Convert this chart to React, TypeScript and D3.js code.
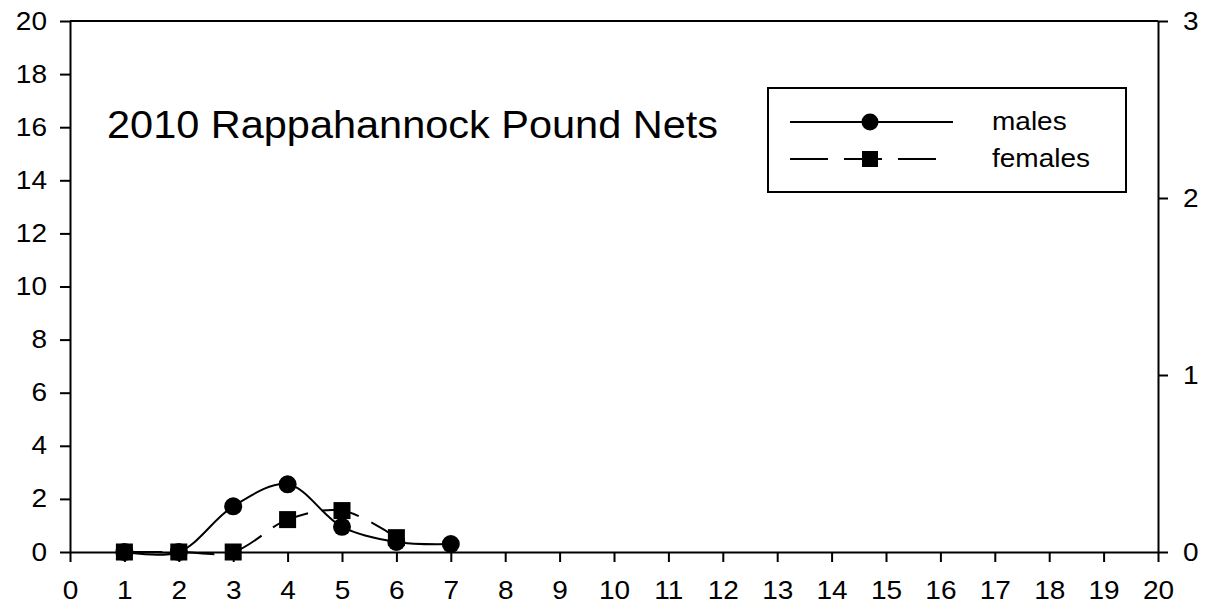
import React, { useEffect, useRef } from "react";
import * as d3 from "d3";

const maleAges = [1, 2, 3, 4, 5, 6, 7];
const maleValues = [0, 0, 1.72, 2.55, 0.95, 0.38, 0.3];
const femaleAges = [1, 2, 3, 4, 5, 6];
const femaleValues = [0, 0, 0, 1.22, 1.56, 0.54];

const xTicks = d3.range(0, 21, 1);
const leftTicks = d3.range(0, 21, 2);
const rightTicks = [0, 1, 2, 3];

const title = "2010 Rappahannock Pound Nets";
const legendLabels = ["males", "females"];

const FONT = "'Liberation Sans', Arial, sans-serif";

export default function App() {
  const ref = useRef<SVGSVGElement | null>(null);

  useEffect(() => {
    const svg = d3.select(ref.current);
    svg.selectAll("*").remove();

    const left = 70;
    const right = 1158;
    const top = 21;
    const bottom = 552;

    const x = d3.scaleLinear().domain([0, 20]).range([left, right]);
    const yL = d3.scaleLinear().domain([0, 20]).range([bottom, top]);
    const yR = d3.scaleLinear().domain([0, 3]).range([bottom, top]);

    const styleAxis = (g: any) => {
      g.selectAll("path").attr("stroke", "#000").attr("stroke-width", 2);
      g.selectAll("line").attr("stroke", "#000").attr("stroke-width", 2);
      g.selectAll("text")
        .attr("font-family", FONT)
        .attr("font-size", 25)
        .attr("fill", "#000");
    };

    // top border
    svg
      .append("line")
      .attr("x1", left)
      .attr("x2", right)
      .attr("y1", top)
      .attr("y2", top)
      .attr("stroke", "#000")
      .attr("stroke-width", 2);

    svg
      .append("g")
      .attr("transform", `translate(0,${bottom})`)
      .call(
        d3
          .axisBottom(x)
          .tickValues(xTicks)
          .tickFormat(d3.format("d"))
          .tickSize(10)
          .tickSizeOuter(0)
          .tickPadding(19)
      )
      .call(styleAxis);

    svg
      .append("g")
      .attr("transform", `translate(${left},0)`)
      .call(
        d3
          .axisLeft(yL)
          .tickValues(leftTicks)
          .tickFormat(d3.format("d"))
          .tickSize(10)
          .tickSizeOuter(0)
          .tickPadding(13)
      )
      .call(styleAxis);

    svg
      .append("g")
      .attr("transform", `translate(${right},0)`)
      .call(
        d3
          .axisRight(yR)
          .tickValues(rightTicks)
          .tickFormat(d3.format("d"))
          .tickSize(10)
          .tickSizeOuter(0)
          .tickPadding(15)
      )
      .call(styleAxis);

    const line = d3
      .line<[number, number]>()
      .x((d) => x(d[0]))
      .y((d) => yL(d[1]))
      .curve(d3.curveCatmullRom.alpha(0.5));

    const maleData: [number, number][] = maleAges.map((a, i) => [a, maleValues[i]]);
    const femaleData: [number, number][] = femaleAges.map((a, i) => [a, femaleValues[i]]);

    svg
      .append("path")
      .attr("d", line(femaleData))
      .attr("fill", "none")
      .attr("stroke", "#000")
      .attr("stroke-width", 2)
      .attr("stroke-dasharray", "38,14");

    svg
      .append("path")
      .attr("d", line(maleData))
      .attr("fill", "none")
      .attr("stroke", "#000")
      .attr("stroke-width", 2);

    svg
      .selectAll(".male")
      .data(maleData)
      .enter()
      .append("circle")
      .attr("cx", (d) => x(d[0]))
      .attr("cy", (d) => yL(d[1]))
      .attr("r", 9)
      .attr("fill", "#000");

    svg
      .selectAll(".female")
      .data(femaleData)
      .enter()
      .append("rect")
      .attr("x", (d) => x(d[0]) - 8.5)
      .attr("y", (d) => yL(d[1]) - 8.5)
      .attr("width", 17)
      .attr("height", 17)
      .attr("fill", "#000");

    // legend
    const lg = svg.append("g");
    lg.append("rect")
      .attr("x", 768)
      .attr("y", 88)
      .attr("width", 358)
      .attr("height", 104)
      .attr("fill", "#fff")
      .attr("stroke", "#000")
      .attr("stroke-width", 2);

    lg.append("line")
      .attr("x1", 790)
      .attr("x2", 953)
      .attr("y1", 122)
      .attr("y2", 122)
      .attr("stroke", "#000")
      .attr("stroke-width", 2);
    lg.append("circle").attr("cx", 870).attr("cy", 122).attr("r", 8.5).attr("fill", "#000");

    lg.append("line")
      .attr("x1", 790)
      .attr("x2", 940)
      .attr("y1", 159)
      .attr("y2", 159)
      .attr("stroke", "#000")
      .attr("stroke-width", 2)
      .attr("stroke-dasharray", "38,16");
    lg.append("rect")
      .attr("x", 862)
      .attr("y", 151)
      .attr("width", 16)
      .attr("height", 16)
      .attr("fill", "#000");

    lg.selectAll(".lab")
      .data(legendLabels)
      .enter()
      .append("text")
      .attr("x", 992)
      .attr("y", (_d, i) => 130 + i * 37)
      .attr("font-family", FONT)
      .attr("font-size", 25)
      .text((d) => d);

    // the source lettering is a bit wider than Liberation Sans
    svg.selectAll<SVGTextElement, unknown>("text").each(function () {
      const w = this.getComputedTextLength();
      d3.select(this)
        .attr("textLength", w * 1.12)
        .attr("lengthAdjust", "spacingAndGlyphs");
    });

    // title
    svg
      .append("text")
      .attr("x", 107)
      .attr("y", 138)
      .attr("font-family", FONT)
      .attr("font-size", 38)
      .attr("textLength", 611)
      .attr("lengthAdjust", "spacingAndGlyphs")
      .text(title);
  }, []);

  return (
    <div style={{ position: "absolute", left: 0, top: 0 }}>
      <svg ref={ref} width={1215} height={608} style={{ background: "#fff", display: "block" }} />
    </div>
  );
}
